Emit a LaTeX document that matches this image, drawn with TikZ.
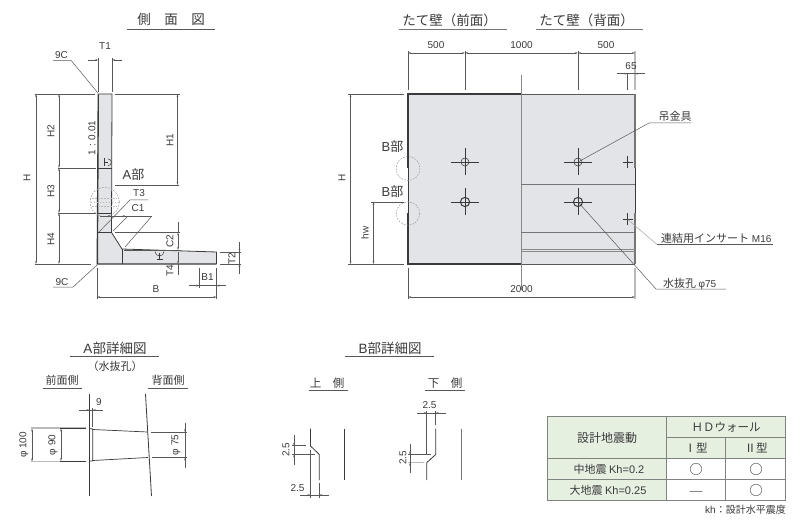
\documentclass[tikz,border=0pt]{standalone}
\usepackage{fontspec}
\setmainfont{Liberation Sans}
\newfontfamily\jp{Noto Sans CJK JP}
\usetikzlibrary{arrows.meta}
\definecolor{ink}{HTML}{3A3A3C}
\definecolor{soft}{HTML}{B9BABC}
\definecolor{wall}{HTML}{E2E4E7}
\definecolor{tgreen}{HTML}{E5F0E0}
\definecolor{tline}{HTML}{7F8480}
\tikzset{
 x=1pt,y=-1pt,
 tipend/.style={-{Stealth[length=3pt,width=1.7pt]}},
 lbl/.style={inner sep=0pt,text=ink,font=\fontsize{10}{11}\selectfont},
 lblr/.style={lbl,rotate=90},
 jlbl/.style={inner sep=0pt,text=ink,font=\fontsize{11}{12}\selectfont\jp},
 big/.style={inner sep=0pt,text=ink,font=\fontsize{13}{14}\selectfont},
 ttl/.style={inner sep=0pt,text=ink,font=\fontsize{13.5}{14}\selectfont\jp},
 ext/.style={draw=ink!85,line width=.5pt},
 softext/.style={draw=soft,line width=1.1pt},
 dimline/.style={draw=ink!85,line width=.5pt,{Stealth[length=3pt,width=1.7pt]}-{Stealth[length=3pt,width=1.7pt]}},
 rule/.style={draw=ink!85,line width=.7pt},
 body/.style={draw=ink,line width=.8pt},
 heavy/.style={draw=ink,line width=1.4pt},
 grayband/.style={draw=ink!70,line width=1.2pt},
 phantomc/.style={draw=ink!55,line width=.5pt,dash pattern=on 1.6pt off 1.4pt},
 tcell/.style={inner sep=0pt,text=ink,font=\fontsize{11.5}{12}\selectfont\jp},
 rnd/.style={draw=ink!75,line width=.55pt,circle,minimum size=11.5pt,inner sep=0pt},
}
\newcommand{\latinsmall}{\rmfamily\fontsize{10}{11}\selectfont}
\begin{document}
\begin{tikzpicture}
\useasboundingbox (0,0) rectangle (800,521);
\fill[white] (0,0) rectangle (800,521);

% ---------- side view ----------
\node[ttl] (tSide) at (171,19) {側　面　図};
\draw[rule] (127,29.3) -- (215,29.3);
\fill[wall] (98.3,94) -- (112,94) -- (111.5,232.5) -- (122,249) -- (216.5,252) -- (216.5,264) -- (97.3,264) -- cycle;
\draw[heavy] (98.3,94) -- (97.3,264) -- (216.5,264);
\draw[body] (98.3,94) -- (112,94) -- (111.5,232.5) -- (122,249) -- (216.5,252) -- (216.5,264);
\draw[body,line width=.6pt] (98,168) -- (111.7,168) (97.8,213) -- (111.6,213) (97.5,232.5) -- (111.5,232.5) (122,249) -- (122,264);
% T1
\node[lbl] (tT1) at (105,46) {T1};
\draw[ext] (98.3,58) -- (98.3,92) (112,58) -- (112,92);
\draw[ext,tipend] (88,60) -- (98.3,60);
\draw[ext,tipend] (122,60) -- (112,60);
% 9C
\node[lbl] (t9Ca) at (61.5,55) {9C};
\draw[ext] (53,60.3) -- (71,60.3) -- (98,93);
\node[lbl] (t9Cb) at (62,282) {9C};
\draw[ext] (53,287) -- (73,287) -- (97,265);
% H family
\draw[ext] (35,94) -- (95,94) (115,94) -- (180,94);
\draw[ext] (58,168) -- (96,168) (58,213) -- (96,213) (35,264) -- (91,264) (115,185) -- (179,185);
\draw[dimline] (36,94) -- (36,264);
\draw[dimline] (59,94) -- (59,168);
\draw[dimline] (59,168) -- (59,213);
\draw[dimline] (59,213) -- (59,264);
\draw[dimline] (177.5,94) -- (177.5,185);
\node[lblr] (tH) at (27,178) {H};
\node[lblr] (tH2) at (51,131) {H2};
\node[lblr] (tH3) at (51,191) {H3};
\node[lblr] (tH4) at (51,239) {H4};
\node[lblr] (tH1) at (170,140) {H1};
\node[lblr] (tSlope) at (92,138) {1 : 0.01};
% hanger symbols
\draw[ink,line width=.6pt] (104,158.5) -- (104,166) (104,162.3) -- (108,162.3);
\draw[ink,line width=.5pt] (108,158.9) arc[start angle=-90,end angle=90,radius=3.4];
\draw[ink,line width=.6pt] (159.5,253) -- (159.5,259) (156.5,259.5) -- (162.5,259.5);
\draw[ink,line width=.5pt] (155,251.5) arc[start angle=180,end angle=0,radius=4.5];
% A mark
\node[big] (tA) at (133.5,175) {A{\jp 部}};
\draw[phantomc] (104.7,202) circle[radius=14.6];
\draw[phantomc,draw=ink!35,line width=.4pt] (92,198) -- (117,198) (90.5,202) -- (119,202) (92,206) -- (117,206);
% T3, C1
\node[lbl] (tT3) at (139,193) {T3};
\node[lbl] (tC1) at (138,208) {C1};
\draw[ext] (148,200) -- (130,200) -- (99,232);
\draw[ext] (128,216) -- (113,231);
\draw[ext] (152,216) -- (125,247);
\draw[ext] (100,216) -- (152,216);
\draw[ext,tipend] (100,216) -- (111,216);
\draw[ext,tipend] (140,216) -- (122,216);
% C2,T4,T2
\draw[ext] (115,232.5) -- (180,232.5) (124,250) -- (180,250) (220,252) -- (241,252) (220,264) -- (241,264);
\draw[ext] (178,222) -- (178,232.5);
\draw[dimline] (178,232.5) -- (178,250);
\draw[ext,tipend] (178,252) -- (178,264);
\draw[ext] (178,264) -- (178,275);
\node[lblr] (tC2) at (170,241) {C2};
\node[lblr] (tT4) at (170,271) {T4};
\draw[ext] (239.5,242) -- (239.5,274);
\draw[ext,tipend] (239.5,243) -- (239.5,252);
\draw[ext,tipend] (239.5,273) -- (239.5,264);
\node[lblr] (tT2) at (232,259) {T2};
% B1, B
\draw[ext] (199,268) -- (199,288) (216.5,268) -- (216.5,299) (97,268) -- (97,299);
\draw[ext] (189,285.7) -- (226,285.7);
\draw[ext,tipend] (189,285.7) -- (199,285.7);
\draw[ext,tipend] (226,285.7) -- (216.5,285.7);
\node[lbl] (tB1) at (207.5,277) {B1};
\draw[dimline] (97,297) -- (216.5,297);
\node[lbl] (tB) at (156,289) {B};

% ---------- front / back wall ----------
\node[ttl] (tFront) at (449.5,20) {たて壁（前面）};
\draw[rule,draw=ink!70,line width=.9pt] (399,29.7) -- (507,29.7);
\node[ttl] (tBack) at (586.5,20) {たて壁（背面）};
\draw[rule,draw=ink!70,line width=.9pt] (536,29.7) -- (643,29.7);
\fill[wall] (408,94) rectangle (635,264);
\draw[body,draw=ink!85] (521,94) -- (635,94);
\draw[body,draw=ink!85] (521,264) -- (635,264);
\draw[grayband,line width=1.2pt] (635,94) -- (635,168) (635,213) -- (635,264);
\draw[ink,line width=.7pt] (635,168) -- (635,213);
\draw[heavy,line width=1.5pt] (408,168) -- (408,94) -- (521,94);
\draw[heavy,line width=1.5pt] (408,213) -- (408,264) -- (521,264);
\draw[ink,line width=.7pt] (408,168) -- (408,213);
\draw[draw=ink!60,line width=.7pt] (521,75) -- (521,290);
\draw[grayband] (521,184.7) -- (635,184.7);
\draw[grayband,line width=1pt] (521,232.7) -- (635,232.7);
\draw[ink!60,line width=1.1pt] (521,249.2) -- (635,249.2);
\draw[ink!60,line width=1.1pt] (521,251.8) -- (635,251.8);
% holes
\foreach \hn/\hx/\hy/\hr/\hw in {a/465/162/4/.55,b/465/202/4.6/1,c/578/162/4/.55,d/578/202/4.6/1}{
 \coordinate (hole\hn) at (\hx,\hy);
 \draw[ink,line width=.55pt] (\hx-14,\hy) -- (\hx+14,\hy) (\hx,\hy-13.5) -- (\hx,\hy+13.5);
 \draw[ink,line width=\hw pt] (hole\hn) circle[radius=\hr];
}
% inserts
\foreach \hn/\hy in {a/162,b/219.5}{
 \coordinate (ins\hn) at (627.7,\hy);
 \draw[ink,line width=.45pt] (622.5,\hy) -- (632.8,\hy) (627.7,\hy-6) -- (627.7,\hy+6);
 \fill[ink] (ins\hn) circle[radius=1];
}
% B marks
\draw[phantomc] (408,168.5) circle[radius=12];
\draw[phantomc] (408,213.5) circle[radius=11.7];
\node[big] (tB1m) at (392.5,147) {B{\jp 部}};
\node[big] (tB2m) at (392.5,192) {B{\jp 部}};
% front dims
\node[lbl] (d500a) at (436,45) {500};
\node[lbl] (d1000) at (521.5,45) {1000};
\node[lbl] (d500b) at (606,45) {500};
\draw[ext] (408,51) -- (408,90) (465,51) -- (465,90) (578,51) -- (578,90);
\draw[softext] (635,51) -- (635,90);
\draw[dimline] (408,53) -- (465,53);
\draw[dimline] (465,53) -- (578,53);
\draw[dimline] (578,53) -- (635,53);
\node[lbl] (d65) at (631,66) {65};
\draw[ext] (627.7,73) -- (627.7,90);
\draw[ext] (617,73.7) -- (645,73.7);
\draw[ext,tipend] (617,73.7) -- (627.7,73.7);
\draw[ext,tipend] (645,73.7) -- (635,73.7);
% H, hw, 2000
\draw[ext] (348,94) -- (404,94) (348,264) -- (404,264) (371,202) -- (404,202);
\draw[dimline] (350.5,94) -- (350.5,264);
\draw[dimline] (373.5,202) -- (373.5,264);
\node[lblr] (dH) at (342,178) {H};
\node[lblr] (dhw) at (365,233) {hw};
\draw[ext] (408,268) -- (408,299);
\draw[softext] (635,268) -- (635,299);
\draw[dimline] (408,297) -- (635,297);
\node[lbl] (d2000) at (521.5,289) {2000};
% leaders
\node[jlbl] (lHanger) at (675,116.5) {吊金具};
\draw[ext] (691,123) -- (649,123) -- (holec);
\node[jlbl,anchor=west] (lInsert) at (661,238.5) {連結用インサート{\latinsmall\ M16}};
\draw[draw=ink!45,line width=.5pt] (657,244.5) -- (insb);
\draw[draw=ink!85,line width=.5pt] (773,244.5) -- (657,244.5);
\node[jlbl,anchor=west] (lDrain) at (663,284) {水抜孔 {\latinsmall φ75}};
\draw[ext] (726,289) -- (656,289) -- (holed);

% ---------- A detail ----------
\node[ttl] (tAd) at (115,348) {{\rmfamily A}部詳細図};
\draw[rule] (70,356.5) -- (158.5,356.5);
\node[jlbl] (tAs) at (115,366.5) {（水抜孔）};
\node[jlbl] (tAf) at (62,380) {前面側};
\draw[rule] (42.5,388.3) -- (82,388.3);
\node[jlbl] (tAb) at (168,380) {背面側};
\draw[rule] (148,388.3) -- (187.5,388.3);
\draw[ink,line width=.8pt] (89.5,394) -- (89.5,496);
\draw[ink,line width=.8pt] (145.5,394) -- (151.5,496);
\draw[ink,line width=.8pt] (89.5,428.5) -- (92.7,429) -- (92.7,461) -- (89.5,461);
\draw[ink,line width=.7pt] (92.7,429.5) -- (147.5,432);
\draw[ink,line width=.7pt] (92.7,460.5) -- (148,457.5);
\draw[softext] (31,428) -- (86,428) (31,461.5) -- (86,461.5);
\draw[ink,line width=.5pt] (60,428.5) -- (86,428.5) (60,461) -- (86,461);
\draw[dimline] (32,428.5) -- (32,461.5);
\draw[dimline] (61,428.5) -- (61,461);
\node[lblr] (dA100) at (24,445) {φ 100};
\node[lblr] (dA90) at (53,445) {φ 90};
\node[lbl] (dA9) at (99,402) {9};
\draw[ext] (79,410) -- (103,410) (92.7,408) -- (92.7,427);
\draw[ext,tipend] (79,410) -- (89.5,410);
\draw[ext,tipend] (103,410) -- (92.7,410);
\draw[ext] (150.5,432) -- (187,432) (152,457.5) -- (187,457.5);
\draw[ext] (185,422.5) -- (185,467.5);
\draw[ext,tipend] (185,423) -- (185,432);
\draw[ext,tipend] (185,467) -- (185,457.5);
\node[lblr] (dA75) at (176,445) {φ 75};

% ---------- B detail ----------
\node[ttl] (tBd) at (390,348) {{\rmfamily B}部詳細図};
\draw[rule] (344.5,356.3) -- (434,356.3);
\node[jlbl,font=\fontsize{11.5}{12}\selectfont\jp] (tBu) at (327,383) {上　側};
\draw[rule] (308.5,390.3) -- (348,390.3);
\node[jlbl,font=\fontsize{11.5}{12}\selectfont\jp] (tBl) at (445,383) {下　側};
\draw[rule] (425,390.3) -- (464.5,390.3);
% upper
\draw[ink,line width=.8pt] (310.5,428.5) -- (310.5,446) -- (319.3,454.5) -- (319.3,480);
\draw[ink,line width=.8pt] (344.5,428.5) -- (344.5,480);
\draw[ext] (292,445.7) -- (306,445.7) (292,454.5) -- (315,454.5);
\draw[ext] (294,435) -- (294,465);
\draw[ext,tipend] (294,435.5) -- (294,445.7);
\draw[ext,tipend] (294,464.5) -- (294,454.5);
\node[lblr] (dBu1) at (286,450) {2.5};
\node[lbl] (dBu2) at (297.5,488) {2.5};
\draw[ext] (310.5,450) -- (310.5,498) (319.3,483) -- (319.3,498);
\draw[ext] (300,495) -- (329,495);
\draw[ext,tipend] (300,495) -- (310.5,495);
\draw[ext,tipend] (329,495) -- (319.3,495);
% lower
\draw[ink,line width=.8pt] (435.7,428.5) -- (435.7,454.5) -- (426.7,462.7) -- (426.7,480);
\draw[draw=ink!70,line width=1pt] (461,428.5) -- (461,480);
\node[lbl] (dBl1) at (429.5,405) {2.5};
\draw[ext] (426.7,411) -- (426.7,455) (435.7,411) -- (435.7,425);
\draw[ext] (417,413) -- (445.7,413);
\draw[ext,tipend] (417,413) -- (426.7,413);
\draw[ext,tipend] (445.7,413) -- (435.7,413);
\draw[ext] (408,454.5) -- (431,454.5);
\draw[softext] (408,462.7) -- (424,462.7);
\draw[ext] (410,444) -- (410,473);
\draw[ext,tipend] (410,444.5) -- (410,454.5);
\draw[ext,tipend] (410,472.5) -- (410,462.7);
\node[lblr] (dBl2) at (403,458) {2.5};

% ---------- table ----------
\fill[tgreen] (547.5,416.5) rectangle (785.5,458.5);
\fill[tgreen] (547.5,458.5) rectangle (666.5,500);
\draw[draw=tline,line width=.9pt] (547.5,416.5) rectangle (785.5,500);
\draw[draw=tline,line width=.9pt] (666.5,416.5) -- (666.5,500) (725.5,437.5) -- (725.5,500) (666.5,437.5) -- (785.5,437.5) (547.5,458.5) -- (785.5,458.5) (547.5,479.5) -- (785.5,479.5);
\node[tcell,font=\fontsize{12}{13}\selectfont\jp] (c11) at (607,438) {設計地震動};
\node[tcell] (c12) at (726,427) {ＨＤウォール};
\node[tcell] (c21) at (696,448) {Ⅰ型};
\node[tcell] (c22) at (756,448) {Ⅱ型};
\node[tcell,font=\fontsize{11}{12}\selectfont\jp] (c31) at (609,469) {中地震 {\rmfamily Kh=0.2}};
\node[tcell,font=\fontsize{11}{12}\selectfont\jp] (c41) at (608,490) {大地震 {\rmfamily Kh=0.25}};
\node[rnd] (o1) at (696,469) {};
\node[rnd] (o2) at (756,469) {};
\node[tcell,font=\fontsize{15}{16}\selectfont\jp] (dash) at (696,494) {―};
\node[rnd] (o3) at (756,490) {};
\node[tcell,anchor=east,font=\fontsize{10}{11}\selectfont\jp] (note) at (786,510) {{\rmfamily kh}：設計水平震度};
\end{tikzpicture}
\end{document}
